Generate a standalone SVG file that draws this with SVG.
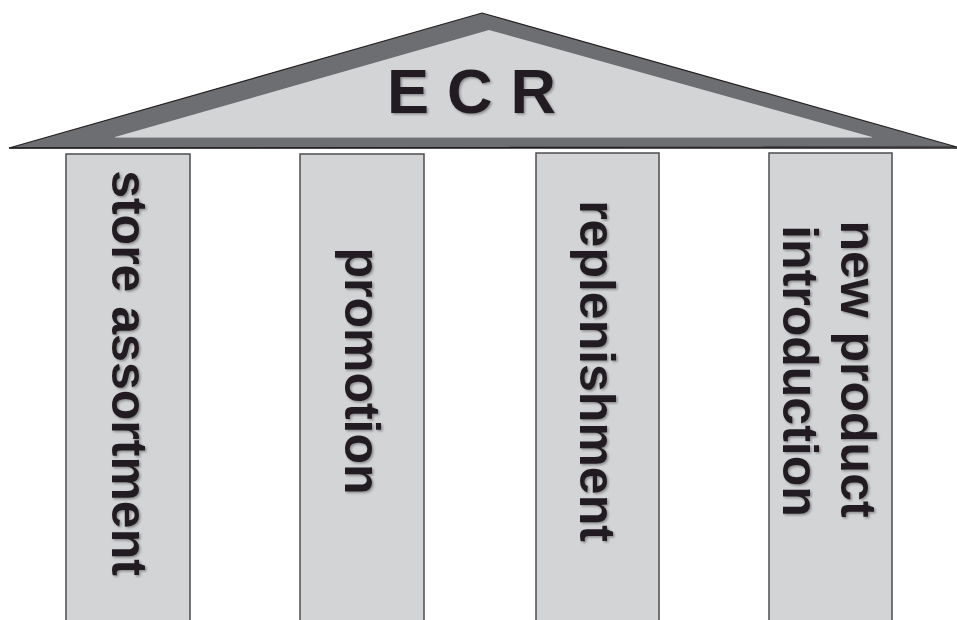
<svg xmlns="http://www.w3.org/2000/svg" width="957" height="620" viewBox="0 0 957 620">
  <defs>
    <filter id="soft" x="-10%" y="-10%" width="130%" height="130%">
      <feDropShadow dx="1.5" dy="1.5" stdDeviation="1.2" flood-color="#000" flood-opacity="0.35"/>
    </filter>
  </defs>
  <style>
    .pillar { fill: #d3d4d6; stroke: #4d4d4f; stroke-width: 1.5; }
    .label { font-family: "Liberation Sans", Arial, sans-serif; font-weight: bold; font-size: 50px; fill: #231f20; text-anchor: middle; }
    .title { font-family: "Liberation Sans", Arial, sans-serif; font-weight: bold; font-size: 63px; fill: #231f20; letter-spacing: 18px; }
  </style>
  <rect width="957" height="620" fill="#ffffff"/>

  <!-- roof -->
  <g id="roof">
    <polygon points="9,148 482,13 957,147" fill="#6d6e71" stroke="#231f20" stroke-width="1.2" stroke-linejoin="miter"/>
    <polygon points="115,137 489,30 872,137" fill="#d3d4d6"/>
    <line x1="115" y1="137.5" x2="872" y2="137.5" stroke="#a7a9ac" stroke-width="1"/>
    <line x1="9" y1="148" x2="957" y2="148" stroke="#231f20" stroke-width="1.5"/>
    <g filter="url(#soft)">
      <text class="title" x="387" y="113">ECR</text>
    </g>
  </g>

  <!-- pillars -->
  <g id="pillar-store-assortment">
    <rect class="pillar" x="66" y="154" width="124" height="475"/>
    <g filter="url(#soft)">
      <text class="label" transform="translate(112,373) rotate(90)">store assortment</text>
    </g>
  </g>

  <g id="pillar-promotion">
    <rect class="pillar" x="300" y="154" width="124" height="475"/>
    <g filter="url(#soft)">
      <text class="label" transform="translate(345,371) rotate(90)">promotion</text>
    </g>
  </g>

  <g id="pillar-replenishment">
    <rect class="pillar" x="536" y="153" width="123" height="476"/>
    <g filter="url(#soft)">
      <text class="label" transform="translate(580,371) rotate(90)">replenishment</text>
    </g>
  </g>

  <g id="pillar-new-product-introduction">
    <rect class="pillar" x="769" y="153" width="123" height="476"/>
    <g filter="url(#soft)">
      <text class="label" transform="translate(841,369) rotate(90)">new product</text>
      <text class="label" transform="translate(783,371) rotate(90)">introduction</text>
    </g>
  </g>

  <g id="connectors"/>
</svg>
